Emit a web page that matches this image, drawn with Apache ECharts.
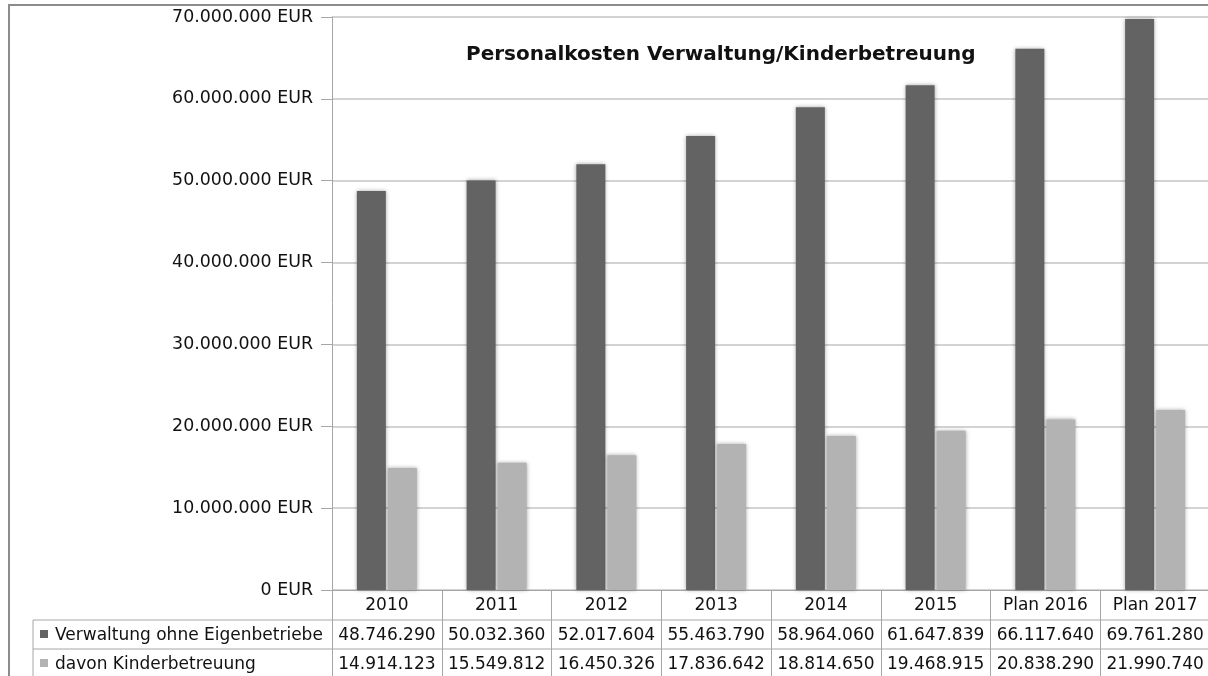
<!DOCTYPE html>
<html>
<head>
<meta charset="utf-8">
<script src="https://cdn.jsdelivr.net/npm/echarts@6/dist/echarts.min.js"></script>
<style>
html,body{margin:0;padding:0;background:#fff;}
#chart{width:1208px;height:676px;}
</style>
</head>
<body>
<div id="chart"></div>
<script>
var categories = ['2010','2011','2012','2013','2014','2015','Plan 2016','Plan 2017'];
var seriesNames = ['Verwaltung ohne Eigenbetriebe','davon Kinderbetreuung'];
var verwaltung = [48746290,50032360,52017604,55463790,58964060,61647839,66117640,69761280];
var kinder = [14914123,15549812,16450326,17836642,18814650,19468915,20838290,21990740];
var titleText = 'Personalkosten Verwaltung/Kinderbetreuung';

var FONT = 'DejaVu Sans';
var C1 = '#636363', C2 = '#b3b3b3';
var LINE = '#a6a6a6';

function fmt(v){
  return String(Math.round(v)).replace(/\B(?=(\d{3})+(?!\d))/g,'.');
}

var chart = echarts.init(document.getElementById('chart'));
var option = {
  animation:false,
  backgroundColor:'#fff',
  title:{
    text:titleText, left:461, top:40,
    textStyle:{fontFamily:FONT, fontSize:20, fontWeight:'bold', color:'#111'}
  },
  grid:{left:332, right:-2, top:17, bottom:86, containLabel:false, outerBoundsMode:'none'},
  xAxis:{
    type:'category', data:categories,
    axisLine:{show:true, lineStyle:{color:LINE, width:1}},
    axisTick:{show:true, length:92, lineStyle:{color:LINE}},
    axisLabel:{
      interval:0, margin:1, color:'#111', fontFamily:FONT,
      formatter:function(val, idx){
        return '{h|'+val+'}\n{v|'+fmt(verwaltung[idx])+'}\n{v|'+fmt(kinder[idx])+'}';
      },
      rich:{
        h:{fontFamily:FONT, fontSize:17, height:30, lineHeight:30, color:'#111'},
        v:{fontFamily:FONT, fontSize:17, height:29, lineHeight:29, color:'#111'}
      }
    }
  },
  yAxis:{
    type:'value', min:0, max:70000000, interval:10000000,
    axisLine:{show:true, lineStyle:{color:LINE}},
    axisTick:{show:true, length:11, lineStyle:{color:LINE}},
    splitLine:{show:true, lineStyle:{color:'#c4c4c4', width:1.5}},
    axisLabel:{
      margin:19, color:'#111', fontFamily:FONT, fontSize:17.4,
      padding:[6,0,0,0],
      formatter:function(v){ return fmt(v)+' EUR'; }
    }
  },
  series:[
    {name:seriesNames[0], type:'bar', data:verwaltung, barWidth:29, barGap:'7%',
     itemStyle:{color:C1, shadowBlur:4, shadowColor:'rgba(0,0,0,0.35)'}},
    {name:seriesNames[1], type:'bar', data:kinder, barWidth:29, barGap:'7%',
     itemStyle:{color:C2, shadowBlur:4, shadowColor:'rgba(0,0,0,0.35)'}}
  ],
  graphic:[
    {type:'rect', shape:{x:9,y:5,width:1400,height:900}, style:{fill:null, stroke:'#8c8c8c', lineWidth:2}, silent:true},
    {type:'line', shape:{x1:33,y1:620,x2:1210,y2:620}, style:{stroke:LINE, lineWidth:1}},
    {type:'line', shape:{x1:33,y1:649,x2:1210,y2:649}, style:{stroke:LINE, lineWidth:1}},
    {type:'line', shape:{x1:33,y1:620,x2:33,y2:680}, style:{stroke:LINE, lineWidth:1}},
    {type:'rect', shape:{x:40,y:630,width:8,height:8}, style:{fill:C1}},
    {type:'rect', shape:{x:40,y:659,width:8,height:8}, style:{fill:C2}},
    {type:'text', x:55, y:635.5, style:{text:seriesNames[0], font:'17px "DejaVu Sans"', fill:'#111', textVerticalAlign:'middle'}},
    {type:'text', x:55, y:664.5, style:{text:seriesNames[1], font:'17px "DejaVu Sans"', fill:'#111', textVerticalAlign:'middle'}}
  ]
};
chart.setOption(option);
</script>
</body>
</html>
